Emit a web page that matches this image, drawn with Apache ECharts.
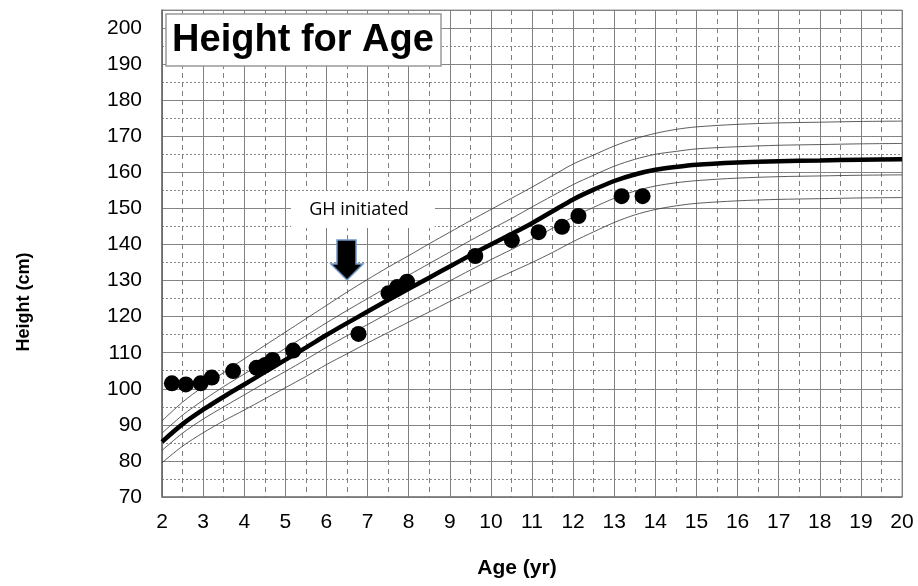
<!DOCTYPE html>
<html>
<head>
<meta charset="utf-8">
<script src="https://cdn.jsdelivr.net/npm/echarts@6/dist/echarts.min.js"></script>
<style>
  html, body { margin: 0; padding: 0; background: #fff; }
  #main { width: 918px; height: 586px; }
</style>
</head>
<body>
<div id="main"></div>
<script>
// reference curves (age in years, height in cm)
var ages = [2, 2.5, 3, 3.5, 4, 4.5, 5, 5.5, 6, 6.5, 7, 7.5, 8, 8.5, 9, 9.5, 10, 10.5, 11, 11.5, 12, 12.5, 13, 13.5, 14, 14.5, 15, 16, 17, 18, 19, 20];
var p95 = [91.1, 96.3, 100.6, 104.5, 108.3, 112.0, 115.7, 119.4, 123.1, 126.8, 130.3, 133.7, 136.9, 140.2, 143.4, 146.6, 149.7, 152.8, 155.9, 159.1, 162.3, 164.8, 167.3, 169.3, 170.8, 171.9, 172.6, 173.3, 173.7, 173.9, 174.1, 174.2];
var p75 = [87.7, 92.7, 96.8, 100.6, 104.1, 107.6, 111.2, 114.7, 118.3, 121.7, 125.0, 128.3, 131.5, 134.7, 137.9, 141.1, 144.2, 147.2, 150.4, 153.5, 156.6, 159.2, 161.7, 163.6, 165.0, 165.8, 166.5, 167.1, 167.5, 167.7, 167.9, 168.0];
var p50 = [85.3, 90.2, 94.2, 97.8, 101.2, 104.6, 108.0, 111.4, 114.9, 118.2, 121.4, 124.6, 127.7, 130.8, 133.9, 137.0, 140.0, 142.9, 145.9, 149.2, 152.5, 155.2, 157.6, 159.4, 160.7, 161.5, 162.1, 162.7, 163.1, 163.3, 163.5, 163.6];
var p25 = [82.9, 87.7, 91.6, 95.0, 98.3, 101.6, 104.8, 108.1, 111.5, 114.7, 117.8, 120.9, 123.9, 126.9, 129.9, 132.9, 135.8, 138.6, 141.5, 144.5, 147.6, 150.3, 152.8, 154.8, 156.2, 157.1, 157.7, 158.4, 158.8, 159.0, 159.2, 159.3];
var p5 = [79.5, 84.1, 87.8, 91.1, 94.1, 97.2, 100.3, 103.4, 106.7, 109.7, 112.7, 115.6, 118.5, 121.3, 124.2, 127.0, 129.8, 132.4, 135.0, 137.8, 140.8, 143.5, 146.1, 148.2, 149.7, 150.7, 151.4, 152.1, 152.5, 152.7, 152.9, 153.0];

// patient measurements
var visitAges = [2.24, 2.58, 2.94, 3.21, 3.73, 4.30, 4.51, 4.69, 5.19, 6.78, 7.51, 7.72, 7.96, 9.62, 10.51, 11.16, 11.73, 12.13, 13.18, 13.69];
var visitHeights = [101.5, 101.2, 101.5, 103.1, 104.9, 105.8, 106.6, 108.0, 110.6, 115.2, 126.5, 128.2, 129.7, 136.8, 141.2, 143.4, 144.9, 147.9, 153.4, 153.4];

var font = 'Liberation Sans, Arial, sans-serif';

function pairs(xs, ys) {
  return xs.map(function (x, i) { return [x, ys[i]]; });
}

function thinLine(vals) {
  return {
    type: 'line', data: pairs(ages, vals), smooth: 0.3, showSymbol: false,
    lineStyle: { color: '#333', width: 0.8 }, silent: true
  };
}

var chart = echarts.init(document.getElementById('main'));

var option = {
  animation: false,
  backgroundColor: '#fff',
  grid: { left: 162, right: 16, top: 10, bottom: 89, show: true, borderColor: '#999', borderWidth: 1 },
  xAxis: {
    type: 'value', min: 2, max: 20, interval: 1,
    axisLine: { show: true, lineStyle: { color: '#777', width: 1.5 } },
    axisTick: { show: false },
    axisLabel: { color: '#000', fontSize: 21, fontFamily: font, margin: 15 },
    splitLine: { show: true, lineStyle: { color: '#808080', width: 1 } },
    minorTick: { show: false, splitNumber: 2 },
    minorSplitLine: { show: true, lineStyle: { color: '#808080', width: 1, type: [5, 4] } }
  },
  yAxis: [{
    type: 'value', min: 70, max: 205, interval: 10,
    axisLine: { show: true, lineStyle: { color: '#666', width: 1.5 } },
    axisTick: { show: false },
    axisLabel: { color: '#000', fontSize: 21, fontFamily: font, margin: 20, showMaxLabel: false },
    splitLine: { show: true, lineStyle: { color: '#808080', width: 1 } }
  }, {
    type: 'value', min: 70, max: 205, interval: 5, position: 'left',
    axisLine: { show: false }, axisTick: { show: false }, axisLabel: { show: false },
    splitLine: { show: true, lineStyle: { color: '#888', width: 1, type: [2, 2] } }
  }],
  series: [
    thinLine(p95),
    thinLine(p75),
    thinLine(p25),
    thinLine(p5),
    {
      type: 'line', data: pairs(ages, p50), smooth: 0.3, showSymbol: false,
      lineStyle: { color: '#000', width: 4.5 }, silent: true
    },
    {
      type: 'scatter', data: pairs(visitAges, visitHeights), symbol: 'circle', symbolSize: 16,
      itemStyle: { color: '#000', opacity: 1 }, z: 5
    }
  ],
  graphic: [
    // title box
    { type: 'rect', z: 10, shape: { x: 166, y: 14, width: 275, height: 52 },
      style: { fill: '#fff', stroke: '#999', lineWidth: 1.5 } },
    { type: 'text', z: 11, x: 303, y: 41,
      style: { text: 'Height for Age', fill: '#000', fontSize: 38, fontWeight: 'bold', fontFamily: font,
               textAlign: 'center', textVerticalAlign: 'middle' } },
    // annotation
    { type: 'rect', z: 10, shape: { x: 291, y: 191, width: 144, height: 37 },
      style: { fill: '#fff', stroke: null } },
    { type: 'text', z: 11, x: 359, y: 210,
      style: { text: 'GH initiated', fill: '#000', fontSize: 18, fontFamily: 'Open Sans, Noto Sans, sans-serif',
               textAlign: 'center', textVerticalAlign: 'middle' } },
    { type: 'polygon', z: 11,
      shape: { points: [[337, 240], [356, 240], [356, 264], [363, 264], [347, 280], [331, 264], [337, 264]] },
      style: { fill: '#000', stroke: '#6f95c8', lineWidth: 1.5 } },
    // axis titles
    { type: 'text', z: 11, x: 24, y: 302, rotation: Math.PI / 2,
      style: { text: 'Height (cm)', fill: '#000', fontSize: 18, fontWeight: 'bold', fontFamily: font,
               textAlign: 'center', textVerticalAlign: 'middle' } },
    { type: 'text', z: 11, x: 517, y: 568,
      style: { text: 'Age (yr)', fill: '#000', fontSize: 21, fontWeight: 'bold', fontFamily: font,
               textAlign: 'center', textVerticalAlign: 'middle' } }
  ]
};

chart.setOption(option);
</script>
</body>
</html>
